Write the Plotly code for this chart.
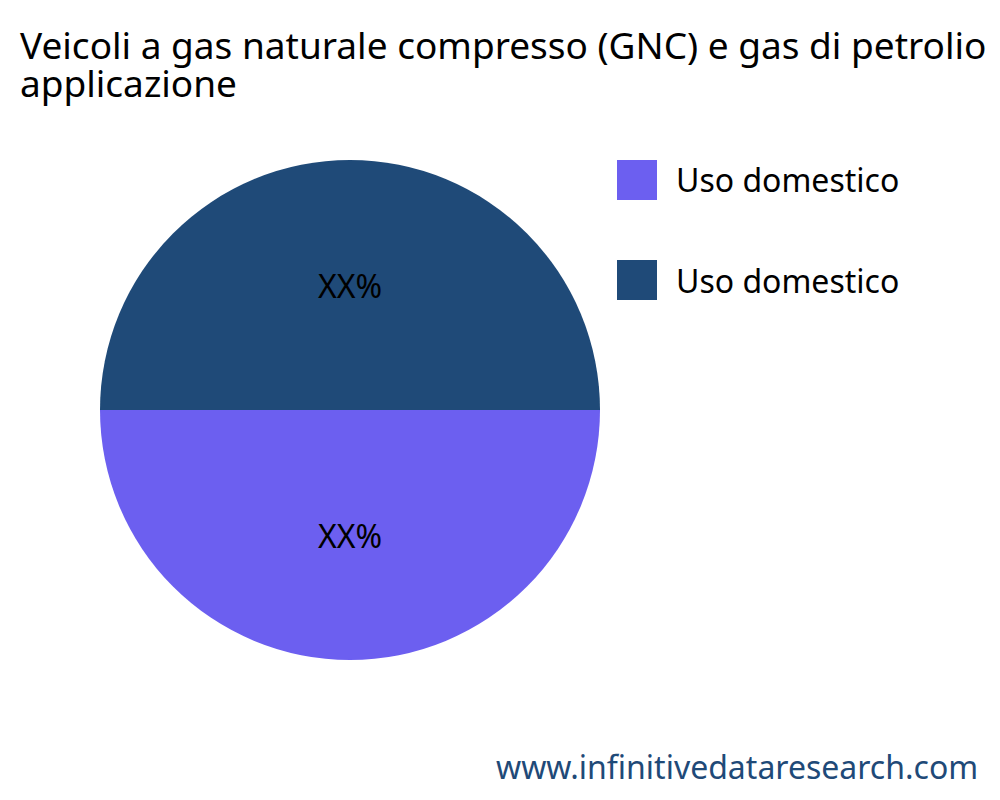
import plotly.graph_objects as go

# data
labels = ["Uso domestico", "Uso domestico\u200b"]
legend_names = ["Uso domestico", "Uso domestico"]
values = [50, 50]
slice_text = ["XX%", "XX%"]
colors = ["#6C5FF0", "#1F4A78"]

title_lines = [
    "Veicoli a gas naturale compresso (GNC) e gas di petrolio liquefatto (GPL) Quota di mercato per",
    "applicazione",
]
# big glyphs but tight line spacing, as in the reference
title_text = "<br>".join('<span style="font-size:37px">%s</span>' % t for t in title_lines)

fig = go.Figure()
fig.add_trace(go.Pie(
    labels=labels,
    values=values,
    text=slice_text,
    textinfo="text",
    textposition="inside",
    insidetextorientation="horizontal",
    textfont=dict(color="black", size=32, family="Noto Sans"),
    marker=dict(colors=colors),
    sort=False,
    direction="clockwise",
    rotation=90,
    domain=dict(x=[0.092, 0.592], y=[0.185, 0.81]),
    showlegend=False,
))

# legend drawn by hand so the swatches can be as large as in the reference
shapes = []
annotations = []
for i, (name, col) in enumerate(zip(legend_names, colors)):
    yc = 0.785 - i * 0.125
    shapes.append(dict(type="rect", xref="paper", yref="paper",
                       x0=0.609, x1=0.649, y0=yc - 0.025, y1=yc + 0.025,
                       fillcolor=col, line=dict(width=0)))
    annotations.append(dict(text=name, xref="paper", yref="paper",
                            x=0.666, y=yc, xanchor="left", yanchor="middle",
                            showarrow=False,
                            font=dict(size=32, color="black", family="Noto Sans")))

annotations.append(dict(text="www.infinitivedataresearch.com", xref="paper", yref="paper",
                        x=0.972, y=0.022, xanchor="right", yanchor="bottom",
                        showarrow=False,
                        font=dict(size=32, color="#1F4A78", family="Noto Sans")))

fig.update_layout(
    width=1000, height=800,
    title=dict(text=title_text, x=0.012, xanchor="left", xref="container",
               y=0.936, yanchor="top",
               font=dict(size=29, color="black", family="Noto Sans")),
    margin=dict(l=0, r=0, t=0, b=0),
    paper_bgcolor="white",
    shapes=shapes,
    annotations=annotations,
)

fig.write_html("out.html")
